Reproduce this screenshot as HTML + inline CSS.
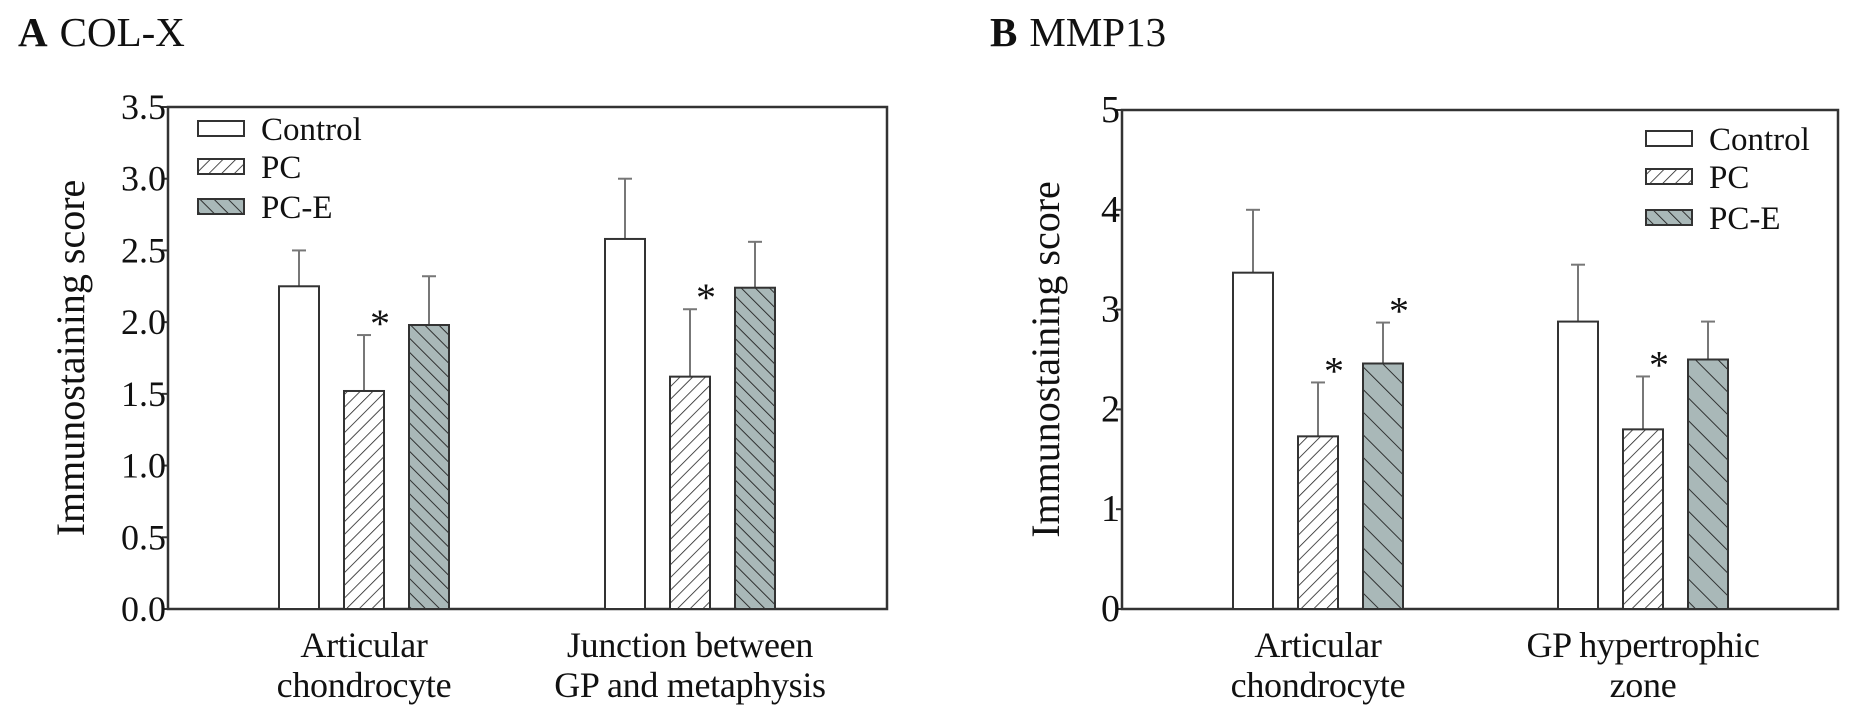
<!DOCTYPE html>
<html><head><meta charset="utf-8">
<style>
html,body{margin:0;padding:0;background:#fff;}
svg{display:block;font-family:"Liberation Serif",serif;}
</style></head>
<body>
<svg id="fig" width="1856" height="719" viewBox="0 0 1856 719">
<defs>
<pattern id="hatchPC" patternUnits="userSpaceOnUse" width="9" height="9" patternTransform="rotate(45)">
<rect width="9" height="9" fill="#fff"/><line x1="0" y1="0" x2="0" y2="9" stroke="#222" stroke-width="1.6"/>
</pattern>
<pattern id="hatchPCEa" patternUnits="userSpaceOnUse" width="10" height="10" patternTransform="rotate(-45)">
<rect width="10" height="10" fill="#a9b8b8"/><line x1="0" y1="0" x2="0" y2="10" stroke="#222" stroke-width="1.8"/>
</pattern>
<pattern id="hatchPCEb" patternUnits="userSpaceOnUse" width="16" height="16" patternTransform="rotate(-45)">
<rect width="16" height="16" fill="#a9b8b8"/><line x1="0" y1="0" x2="0" y2="16" stroke="#222" stroke-width="1.8"/>
</pattern>
</defs>
</svg>
<script>
// Panel A: COL-X
const seriesNames = ["Control", "PC", "PC-E"];
const categoriesA = [["Articular", "chondrocyte"], ["Junction between", "GP and metaphysis"]];
const valuesA_control = [2.25, 2.58];
const valuesA_pc = [1.52, 1.62];
const valuesA_pce = [1.98, 2.24];
const errA_control = [0.25, 0.42];
const errA_pc = [0.39, 0.47];
const errA_pce = [0.34, 0.32];
const starsA_pc = [true, true];
const starsA_pce = [false, false];
const ticksA = ["0.0","0.5","1.0","1.5","2.0","2.5","3.0","3.5"];
const tickValsA = [0,0.5,1,1.5,2,2.5,3,3.5];
// Panel B: MMP13
const categoriesB = [["Articular", "chondrocyte"], ["GP hypertrophic", "zone"]];
const valuesB_control = [3.37, 2.88];
const valuesB_pc = [1.73, 1.80];
const valuesB_pce = [2.46, 2.50];
const errB_control = [0.63, 0.57];
const errB_pc = [0.54, 0.53];
const errB_pce = [0.41, 0.38];
const starsB_pc = [true, true];
const starsB_pce = [true, false];
const ticksB = ["0","1","2","3","4","5"];
const tickValsB = [0,1,2,3,4,5];

const NS = "http://www.w3.org/2000/svg";
const svg = document.getElementById("fig");
function mk(tag, attrs, parent, text){
  const e = document.createElementNS(NS, tag);
  for (const k in attrs) e.setAttribute(k, attrs[k]);
  if (text !== undefined) e.textContent = text;
  (parent || svg).appendChild(e);
  return e;
}

function drawPanel(cfg){
  const g = mk("g", {});
  
  
  const yScale = v => cfg.y0 - (v / cfg.ymax) * (cfg.y0 - cfg.yTop);
  const t = mk("text", {x: cfg.titleX, y: 46, "font-size": 41, fill: "#111"}, g);
  
  
  mk("tspan", {"font-weight": "bold"}, t, cfg.letter);
  mk("tspan", {dx: 12}, t, cfg.title);
  const fr = mk("rect", {x: cfg.xL, y: cfg.yTop, width: cfg.xR - cfg.xL, height: cfg.y0 - cfg.yTop, fill: "none", stroke: "#333", "stroke-width": 2.5}, g);
  
  
  cfg.tickVals.forEach((v, i) => {
    const y = yScale(v);
    const tk = mk("line", {x1: cfg.xL - 6, x2: cfg.xL, y1: y, y2: y, stroke: "#333", "stroke-width": 2}, g);
    
    
    const tl = mk("text", {x: cfg.xL - 2, y: y + 12, "font-size": cfg.tickFont, "text-anchor": "end", fill: "#111"}, g, cfg.ticks[i]);
    
    
  });
  const yt = mk("text", {x: 0, y: 0, "font-size": 40, "text-anchor": "middle", fill: "#111",
    transform: "translate(" + cfg.yTitleX + "," + ((cfg.yTop + cfg.y0) / 2) + ") rotate(-90)"}, g, "Immunostaining score");
  
  
  const fills = ["#fff", "url(#hatchPC)", cfg.pceFill];
  const barW = 40;
  cfg.groupStarts.forEach((gx, gi) => {
    cfg.series.forEach((s, si) => {
      const x = gx + si * cfg.barStep;
      const v = s.vals[gi], e = s.err[gi];
      const yTopBar = yScale(v), yErr = yScale(v + e);
      const eb = mk("line", {x1: x + barW/2, x2: x + barW/2, y1: yTopBar, y2: yErr, stroke: "#777", "stroke-width": 2}, g);
      
      
      const ec = mk("line", {x1: x + barW/2 - 7, x2: x + barW/2 + 7, y1: yErr, y2: yErr, stroke: "#777", "stroke-width": 2}, g);
      
      
      const r = mk("rect", {x: x, y: yTopBar, width: barW, height: cfg.y0 - yTopBar, fill: fills[si], stroke: "#333", "stroke-width": 2}, g);
      
      
      if (s.stars[gi]) {
        const st = mk("text", {x: x + barW - 4, y: yErr + 2, "font-size": 40, "text-anchor": "middle", fill: "#111"}, g, "*");
        
        
      }
    });
    const cx = gx + cfg.barStep + barW / 2;
    cfg.cats[gi].forEach((line, li) => {
      const cl = mk("text", {x: cx, y: 657 + li * 40, "font-size": 36, "text-anchor": "middle", fill: "#111", "letter-spacing": "-0.3"}, g, line);
      
      
    });
  });
  const legFills = ["#fff", "url(#hatchPC)", "url(#hatchPCEa)"];
  seriesNames.forEach((n, i) => {
    const cy = cfg.legY[i];
    const lb = mk("rect", {x: cfg.legX, y: cy - 7, width: 46, height: 15, fill: legFills[i], stroke: "#333", "stroke-width": 2}, g);
    
    
    const lt = mk("text", {x: cfg.legX + 63, y: cy + 12, "font-size": 33, fill: "#111"}, g, n);
    
    
  });
}

drawPanel({
  id: "col-x", letter: "A", title: "COL-X", titleX: 18,
  xL: 168, xR: 887, yTop: 107, y0: 609, ymax: 3.5,
  ticks: ticksA, tickVals: tickValsA, tickFont: 36, yTitleX: 84,
  groupStarts: [279, 605], barStep: 65, pceFill: "url(#hatchPCEa)",
  cats: categoriesA,
  series: [
    {vals: valuesA_control, err: errA_control, stars: [false, false]},
    {vals: valuesA_pc, err: errA_pc, stars: starsA_pc},
    {vals: valuesA_pce, err: errA_pce, stars: starsA_pce}
  ],
  legX: 198, legY: [128, 166, 206]
});
drawPanel({
  id: "mmp13", letter: "B", title: "MMP13", titleX: 990,
  xL: 1122, xR: 1838, yTop: 110, y0: 609, ymax: 5,
  ticks: ticksB, tickVals: tickValsB, tickFont: 38, yTitleX: 1059,
  groupStarts: [1233, 1558], barStep: 65, pceFill: "url(#hatchPCEb)",
  cats: categoriesB,
  series: [
    {vals: valuesB_control, err: errB_control, stars: [false, false]},
    {vals: valuesB_pc, err: errB_pc, stars: starsB_pc},
    {vals: valuesB_pce, err: errB_pce, stars: starsB_pce}
  ],
  legX: 1646, legY: [138, 176, 217]
});
</script>
</body></html>
